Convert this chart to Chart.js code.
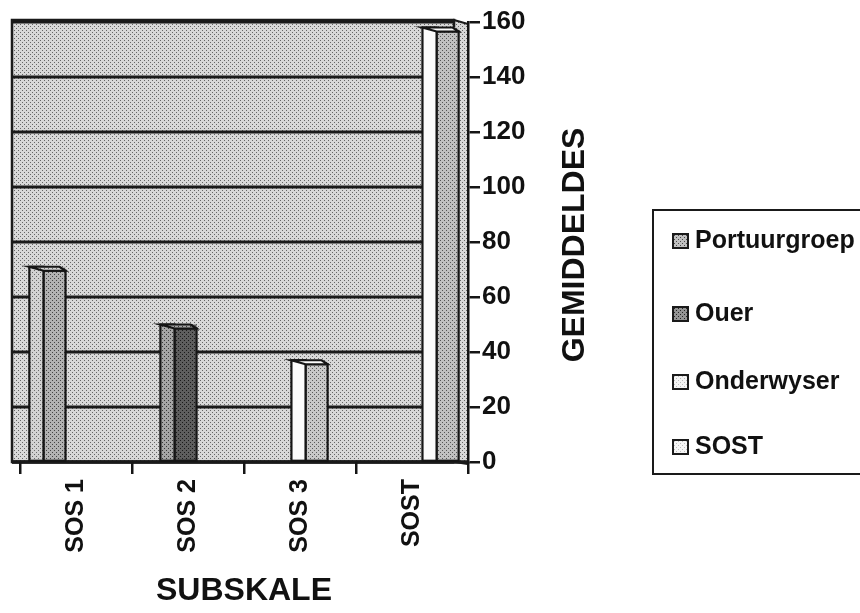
<!DOCTYPE html>
<html>
<head>
<meta charset="utf-8">
<script src="https://cdn.jsdelivr.net/npm/chart.js@4"></script>
<style>
  body { margin: 0; background: #fff; overflow: hidden; width: 860px; height: 613px; position: relative; }
  #c { position: absolute; left: 0; top: 0; }
  #legend { position: absolute; left: 652px; top: 209px; width: 240px; height: 262px; border: 2px solid #1a1a1a; }
  #legend .item { position: absolute; left: 18px; height: 28px; line-height: 28px; white-space: nowrap;
    font-family: "Liberation Sans", Arial, sans-serif; font-weight: bold; font-size: 25px; color: #111; }
  #legend .sw { display: inline-block; width: 13px; height: 12px; border: 2px solid #1a1a1a; margin-right: 6px; vertical-align: -1px; }
</style>
</head>
<body>
<canvas id="c" width="860" height="613"></canvas>
<div id="legend"></div>
<script>
const categories = ['SOS 1', 'SOS 2', 'SOS 3', 'SOST'];
const seriesNames = ['Portuurgroep', 'Ouer', 'Onderwyser', 'SOST'];
const portuurgroep = [71, null, null, null];
const ouer = [null, 50, null, null];
const onderwyser = [null, null, 37, null];
const sost = [null, null, null, 158];

const ctx = document.getElementById('c').getContext('2d');
const FONT = '"Liberation Sans", Arial, sans-serif';

// small stipple tiles to mimic the printed halftone
function tile(base, dot) {
  const t = document.createElement('canvas');
  t.width = t.height = 4;
  const g = t.getContext('2d');
  g.fillStyle = base;
  g.fillRect(0, 0, 4, 4);
  g.fillStyle = dot;
  g.fillRect(0, 0, 1, 1);
  g.fillRect(2, 2, 1, 1);
  return t;
}
const tiles = {
  wall: tile('#d8d8d8', '#666666'),
  pFront: tile('#d2d2d2', '#6a6a6a'),
  pSide: tile('#b2b2b2', '#444444'),
  oFront: tile('#a6a6a6', '#3a3a3a'),
  oSide: tile('#5e5e5e', '#1a1a1a'),
  wFront: tile('#fbfbfb', '#fbfbfb'),
  wSide: tile('#c8c8c8', '#5a5a5a'),
  sSide: tile('#c0c0c0', '#555555'),
  legP: tile('#c0c0c0', '#4a4a4a'),
  legO: tile('#949494', '#262626'),
  legW: tile('#f4f4f4', '#bbbbbb')
};
const pat = k => ctx.createPattern(tiles[k], 'repeat');

const frontFaces = [pat('pFront'), pat('oFront'), pat('wFront'), pat('wFront')];
const sideFaces = [pat('pSide'), pat('oSide'), pat('wSide'), pat('sSide')];
const legendTiles = ['legP', 'legO', 'legW', 'legW'];

const walls = {
  id: 'walls',
  beforeDraw(chart) {
    const { left, right, top, bottom } = chart.chartArea;
    const g = chart.ctx;
    const backL = left - 8, backR = right - 14;
    g.save();
    g.fillStyle = pat('wall');
    g.fillRect(backL, top - 2, backR - backL, bottom - top + 2);
    // right side wall
    g.beginPath();
    g.moveTo(backR, top - 2);
    g.lineTo(right, top + 2);
    g.lineTo(right, bottom + 2);
    g.lineTo(backR, bottom);
    g.closePath();
    g.fill();
    g.strokeStyle = '#1a1a1a';
    g.lineWidth = 2;
    g.stroke();
    // gridlines on the back wall
    const y = chart.scales.y;
    g.lineWidth = 3;
    y.ticks.forEach(t => {
      const py = y.getPixelForValue(t.value);
      g.beginPath();
      g.moveTo(backL, py);
      g.lineTo(backR, py);
      g.stroke();
    });
    g.lineWidth = 2.5;
    g.strokeRect(backL, top - 2, backR - backL, bottom - top + 2);
    g.lineWidth = 3.5;
    g.beginPath();
    g.moveTo(backL, bottom);
    g.lineTo(right, bottom);
    g.stroke();
    g.restore();
  }
};

const bars3d = {
  id: 'bars3d',
  afterDatasetsDraw(chart) {
    const g = chart.ctx;
    g.save();
    g.strokeStyle = '#151515';
    g.lineWidth = 2.2;
    chart.data.datasets.forEach((ds, i) => {
      chart.getDatasetMeta(i).data.forEach((bar, j) => {
        if (ds.data[j] == null) return;
        const x0 = bar.x - bar.width / 2, x1 = bar.x + bar.width / 2;
        const xm = x0 + bar.width * 0.39;
        const y = bar.y, b = bar.base;
        g.fillStyle = sideFaces[i];
        g.fillRect(xm, y + 4, x1 - xm, b - y - 4);
        g.strokeRect(xm, y + 4, x1 - xm, b - y - 4);
        g.fillStyle = frontFaces[i];
        g.fillRect(x0, y, xm - x0, b - y);
        g.strokeRect(x0, y, xm - x0, b - y);
        g.beginPath();
        g.moveTo(x0, y);
        g.lineTo(x1 - 6, y);
        g.lineTo(x1, y + 4);
        g.lineTo(xm, y + 4);
        g.closePath();
        g.fillStyle = frontFaces[i];
        g.fill();
        g.stroke();
      });
    });
    g.restore();
  }
};

const yTitle = {
  id: 'yTitle',
  afterDraw(chart) {
    const { top, bottom } = chart.chartArea;
    const g = chart.ctx;
    g.save();
    g.translate(chart.scales.y.left + 107, (top + bottom) / 2 + 3);
    g.rotate(-Math.PI / 2);
    g.font = 'bold 32px ' + FONT;
    g.fillStyle = '#111';
    g.textAlign = 'center';
    g.textBaseline = 'middle';
    g.fillText('GEMIDDELDES', 0, 0);
    g.restore();
  }
};

const chart = new Chart(ctx, {
  type: 'bar',
  data: {
    labels: categories,
    datasets: [portuurgroep, ouer, onderwyser, sost].map((d, i) => ({
      label: seriesNames[i],
      data: d,
      backgroundColor: sideFaces[i],
      borderWidth: 0
    }))
  },
  options: {
    responsive: false,
    animation: false,
    devicePixelRatio: 1,
    layout: { padding: { left: 20, top: 22, right: 0, bottom: 0 } },
    datasets: { bar: { barPercentage: 1.9, categoryPercentage: 0.68 } },
    plugins: { legend: { display: false }, tooltip: { enabled: false } },
    scales: {
      x: {
        grid: { drawOnChartArea: false, offset: true, tickLength: 12, color: '#151515', lineWidth: 2.5 },
        border: { display: false },
        ticks: {
          minRotation: 90, maxRotation: 90, padding: 5, color: '#111',
          font: { family: FONT, weight: 'bold', size: 25 }
        },
        title: {
          display: true, text: 'SUBSKALE', color: '#111',
          font: { family: FONT, weight: 'bold', size: 32 },
          padding: { top: 0, bottom: 3 }
        },
        afterFit: s => { s.height = 151; }
      },
      y: {
        position: 'right',
        min: 0,
        max: 160,
        grid: { drawOnChartArea: false, tickLength: 12, color: '#151515', lineWidth: 2.5 },
        border: { color: '#151515', width: 2.5 },
        ticks: {
          stepSize: 20, padding: 2, color: '#111',
          font: { family: FONT, weight: 'bold', size: 26 }
        },
        afterFit: s => { s.width = 392; }
      }
    }
  },
  plugins: [walls, bars3d, yTitle]
});

// legend box built from the chart's datasets
const legend = document.getElementById('legend');
const itemTops = [14, 87, 155, 220];
chart.data.datasets.forEach((ds, i) => {
  const item = document.createElement('div');
  item.className = 'item';
  item.style.top = itemTops[i] + 'px';
  const sw = document.createElement('span');
  sw.className = 'sw';
  sw.style.backgroundImage = 'url(' + tiles[legendTiles[i]].toDataURL() + ')';
  item.appendChild(sw);
  item.appendChild(document.createTextNode(ds.label));
  legend.appendChild(item);
});
</script>
</body>
</html>
